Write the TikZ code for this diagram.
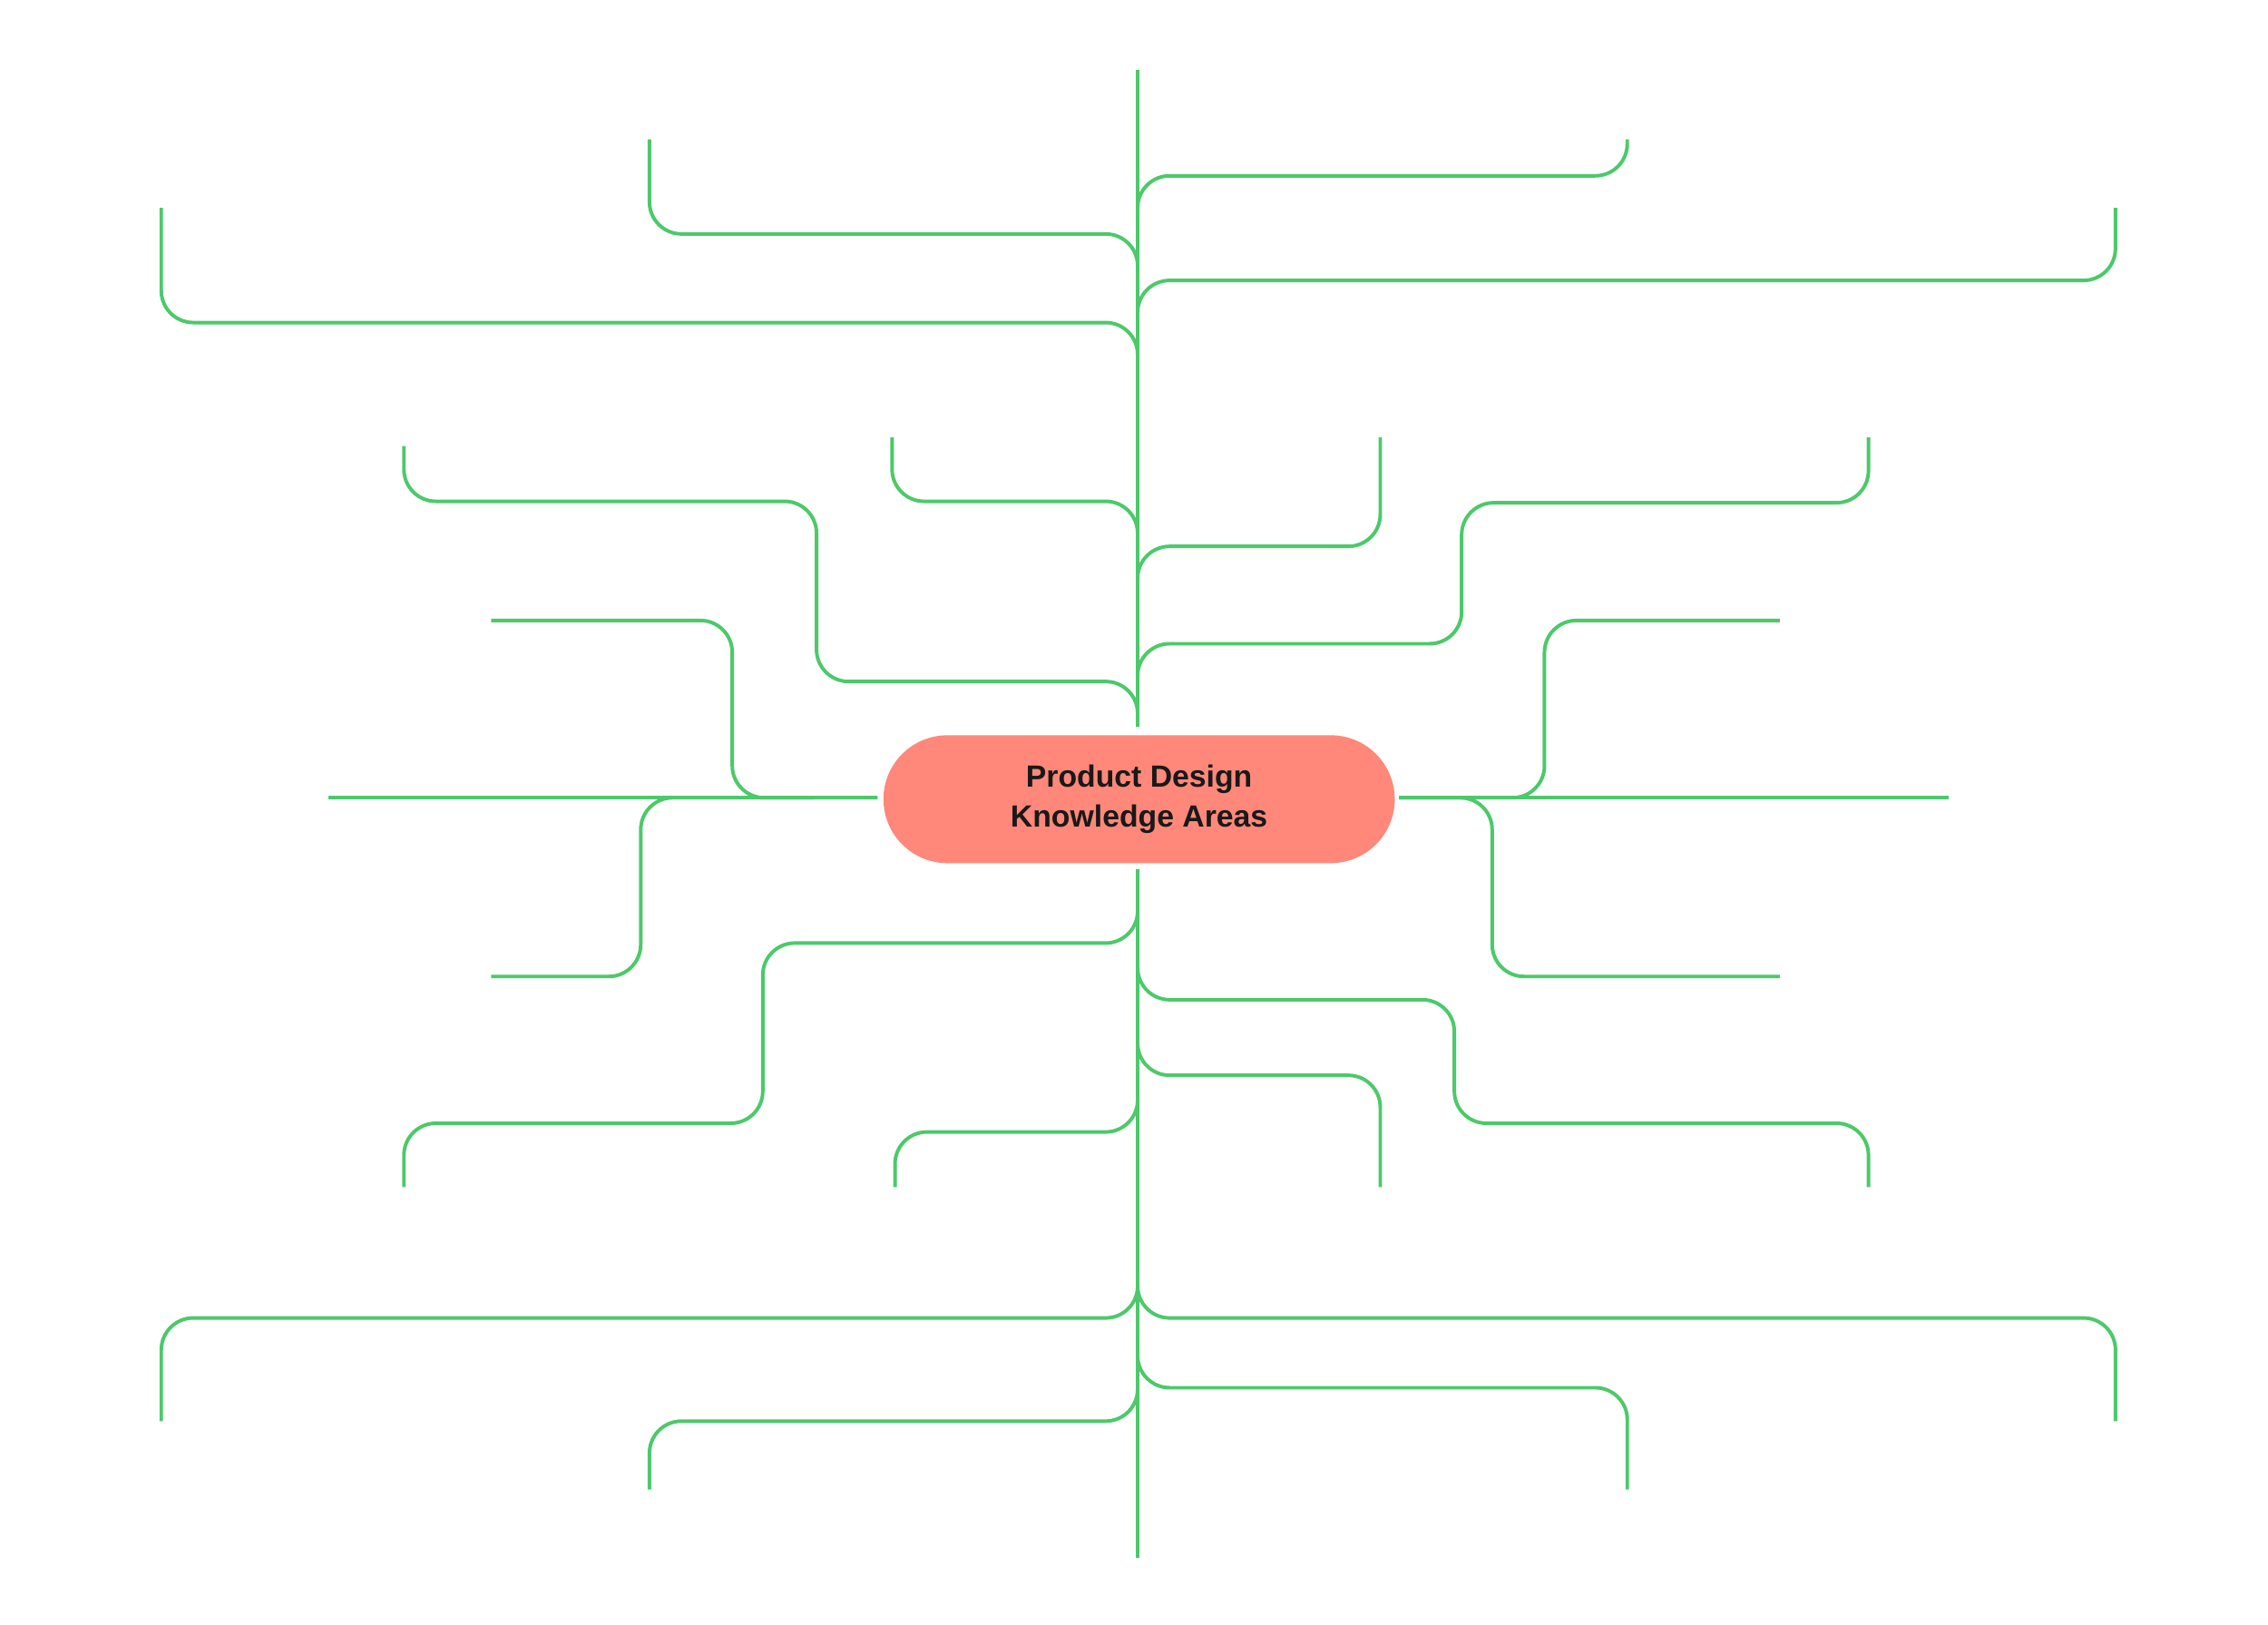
\documentclass[tikz,border=0pt]{standalone}
\usepackage{fontspec}
\setmainfont{Liberation Sans}
\begin{document}
\begin{tikzpicture}[x=0.02cm,y=-0.02cm,
  br/.style={draw=brgreen,line width=1.4pt,rounded corners=0.44cm},
  pill/.style={fill=pillred,rounded corners=0.88cm,minimum width=7.04cm,minimum height=1.76cm,font=\bfseries\fontsize{12}{15.5}\selectfont,text=black!90,align=center}]
\definecolor{brgreen}{HTML}{4CC96A}
\definecolor{pillred}{HTML}{FF887A}
\useasboundingbox (0,0) rectangle (1561,1118);
\node[pill] (c) at (784,550) {Product Design\\Knowledge Areas};
\coordinate (tt) at (783,48); \coordinate (tb) at (783,500);
\coordinate (bt) at (783,598); \coordinate (bb) at (783,1072);
\draw[br] (tt) -- (tb);
\draw[br] (bt) -- (bb);
% top branches
\draw[br] (783,160)--(783,121)--(1120,121)--(1120,96);
\draw[br] (447,96)--(447,161)--(783,161)--(783,200);
\draw[br] (783,230)--(783,193)--(1456,193)--(1456,143);
\draw[br] (111,143)--(111,222)--(783,222)--(783,260);
\draw[br] (614,301)--(614,345)--(783,345)--(783,380);
\draw[br] (783,410)--(783,376)--(950,376)--(950,301);
\draw[br] (278,307)--(278,345)--(562,345)--(562,469)--(783,469)--(783,500);
\draw[br] (783,480)--(783,443)--(1006,443)--(1006,346)--(1286,346)--(1286,301);
% middle
\draw[br] (226,549)--(604,549);
\draw[br] (338,427)--(504,427)--(504,549)--(604,549);
\draw[br] (560,549)--(441,549)--(441,672)--(338,672);
\draw[br] (963,549)--(1341,549);
\draw[br] (963,549)--(1063,549)--(1063,427)--(1225,427);
\draw[br] (963,549)--(1027,549)--(1027,672)--(1225,672);
% bottom
\draw[br] (783,600)--(783,649)--(525,649)--(525,773)--(278,773)--(278,817);
\draw[br] (783,650)--(783,688)--(1001,688)--(1001,773)--(1286,773)--(1286,817);
\draw[br] (783,700)--(783,740)--(950,740)--(950,817);
\draw[br] (783,740)--(783,779)--(616,779)--(616,817);
\draw[br] (783,860)--(783,907)--(111,907)--(111,978);
\draw[br] (783,860)--(783,907)--(1456,907)--(1456,978);
\draw[br] (783,910)--(783,955)--(1120,955)--(1120,1025);
\draw[br] (783,940)--(783,978)--(447,978)--(447,1025);
\end{tikzpicture}
\end{document}
